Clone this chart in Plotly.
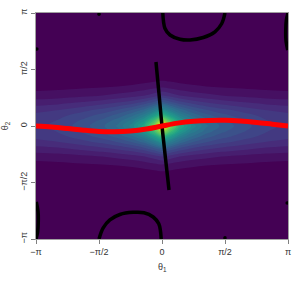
import numpy as np
import plotly.graph_objects as go

PI = np.pi

# ---- density image: broad band + sharp core ----
theta1_knots = [-PI, -2.6, -2.0, -1.5, -1.1, -0.75, -0.45, -0.2, 0.0,
                0.2, 0.45, 0.75, 1.1, 1.5, 2.0, 2.6, PI]
broad_level = [0.2, 0.21, 0.23, 0.25, 0.27, 0.28, 0.29, 0.3, 0.3,
               0.3, 0.29, 0.28, 0.27, 0.25, 0.23, 0.21, 0.2]
core_level = [0.0, 0.01, 0.04, 0.07, 0.11, 0.19, 0.31, 0.5, 0.7,
              0.52, 0.33, 0.2, 0.11, 0.07, 0.04, 0.01, 0.0]
theta2_knots = [-PI, -2.4, -1.8, -1.4, -1.1, -0.85, -0.65, -0.45, -0.3, -0.15, 0.0,
                0.15, 0.3, 0.45, 0.65, 0.85, 1.1, 1.4, 1.8, 2.4, PI]
broad_profile = [0.0, 0.0, 0.01, 0.06, 0.17, 0.33, 0.55, 0.78, 0.9, 0.97, 1.0,
                 0.97, 0.9, 0.78, 0.55, 0.33, 0.17, 0.06, 0.01, 0.0, 0.0]
core_profile = [0.0, 0.0, 0.0, 0.01, 0.04, 0.1, 0.2, 0.37, 0.55, 0.8, 1.0,
                0.8, 0.55, 0.37, 0.2, 0.1, 0.04, 0.01, 0.0, 0.0, 0.0]

# ---- red ridge curve ----
red_theta1 = [-PI, -2.75, -2.36, -1.96, -1.57, -1.18, -0.79, -0.39, 0.0,
              0.39, 0.79, 1.18, 1.57, 1.96, 2.36, 2.75, PI]
red_theta2 = [0.0, -0.03, -0.07, -0.115, -0.15, -0.16, -0.14, -0.085, 0.0,
              0.08, 0.13, 0.155, 0.16, 0.14, 0.1, 0.05, 0.0]

# ---- black curves ----
mid_theta1 = [-0.15, -0.075, 0.0, 0.087, 0.175]
mid_theta2 = [1.78, 0.9, 0.0, -0.9, -1.78]

top_theta1 = [0.02, 0.075, 0.2, 0.45, 0.70, 1.03, 1.32, 1.49, 1.57]
top_theta2 = [PI, 2.71, 2.53, 2.41, 2.39, 2.46, 2.62, 2.85, PI]

bot_theta1 = [-1.57, -1.47, -1.30, -1.05, -0.72, -0.45, -0.22, -0.08, -0.02]
bot_theta2 = [-PI, -2.84, -2.61, -2.46, -2.40, -2.41, -2.53, -2.72, -PI]

right_theta1 = [PI, 3.10, 3.085, 3.09, 3.135]
right_theta2 = [PI, 2.94, 2.67, 2.39, 2.11]

left_theta1 = [-PI, -3.10, -3.085, -3.09, -3.135]
left_theta2 = [-PI, -2.94, -2.67, -2.39, -2.11]

dot_theta1 = [-1.57, -3.12, 3.12, 1.57]
dot_theta2 = [3.11, 2.14, -2.14, -3.11]

tick_vals = [-PI, -PI / 2, 0, PI / 2, PI]
tick_text = ["\u2212\u03c0", "\u2212\u03c0/2", "0", "\u03c0/2", "\u03c0"]

z = np.outer(broad_profile, broad_level) + np.outer(core_profile, core_level)

fig = go.Figure()
fig.add_trace(go.Contour(
    x=theta1_knots, y=theta2_knots, z=z,
    colorscale="Viridis", zmin=0, zmax=1,
    contours=dict(coloring="fill", showlines=False, start=0.05, end=0.99, size=0.04),
    line=dict(width=0), showscale=False, hoverinfo="skip",
))

black = dict(color="black", width=3.5, shape="spline")
for xs, ys in [(mid_theta1, mid_theta2), (top_theta1, top_theta2), (bot_theta1, bot_theta2),
               (right_theta1, right_theta2), (left_theta1, left_theta2)]:
    fig.add_trace(go.Scatter(x=xs, y=ys, mode="lines", line=black,
                             showlegend=False, hoverinfo="skip"))
fig.add_trace(go.Scatter(x=dot_theta1, y=dot_theta2, mode="markers",
                         marker=dict(color="black", size=3.5), showlegend=False, hoverinfo="skip"))
fig.add_trace(go.Scatter(x=red_theta1, y=red_theta2, mode="lines",
                         line=dict(color="#ff0000", width=5, shape="spline"),
                         showlegend=False, hoverinfo="skip"))

font = dict(family="Liberation Sans, Arial", size=9, color="#333333")
axis_common = dict(
    tickmode="array", tickvals=tick_vals, ticktext=tick_text,
    showgrid=False, zeroline=False, showline=True, mirror=True,
    linecolor="#a0a0a0", linewidth=1, ticks="outside", ticklen=4,
    tickcolor="#808080", tickfont=font, automargin=False,
    range=[-PI, PI],
)
fig.update_xaxes(**axis_common)
fig.update_yaxes(**axis_common, tickangle=-90,
                 title=dict(text="\u03b8<sub>2</sub>", font=font))

fig.add_annotation(text="\u03b8<sub>1</sub>", xref="paper", yref="paper",
                   x=0.5, y=-0.128, xanchor="center", yanchor="middle",
                   showarrow=False, font=font)

fig.update_layout(
    width=299, height=285,
    margin=dict(l=36, r=11, t=13, b=46),
    paper_bgcolor="white", plot_bgcolor="#440154",
    showlegend=False,
)

fig.write_html("out.html", config={"displayModeBar": False},
               post_script="document.body.style.margin='0';")
